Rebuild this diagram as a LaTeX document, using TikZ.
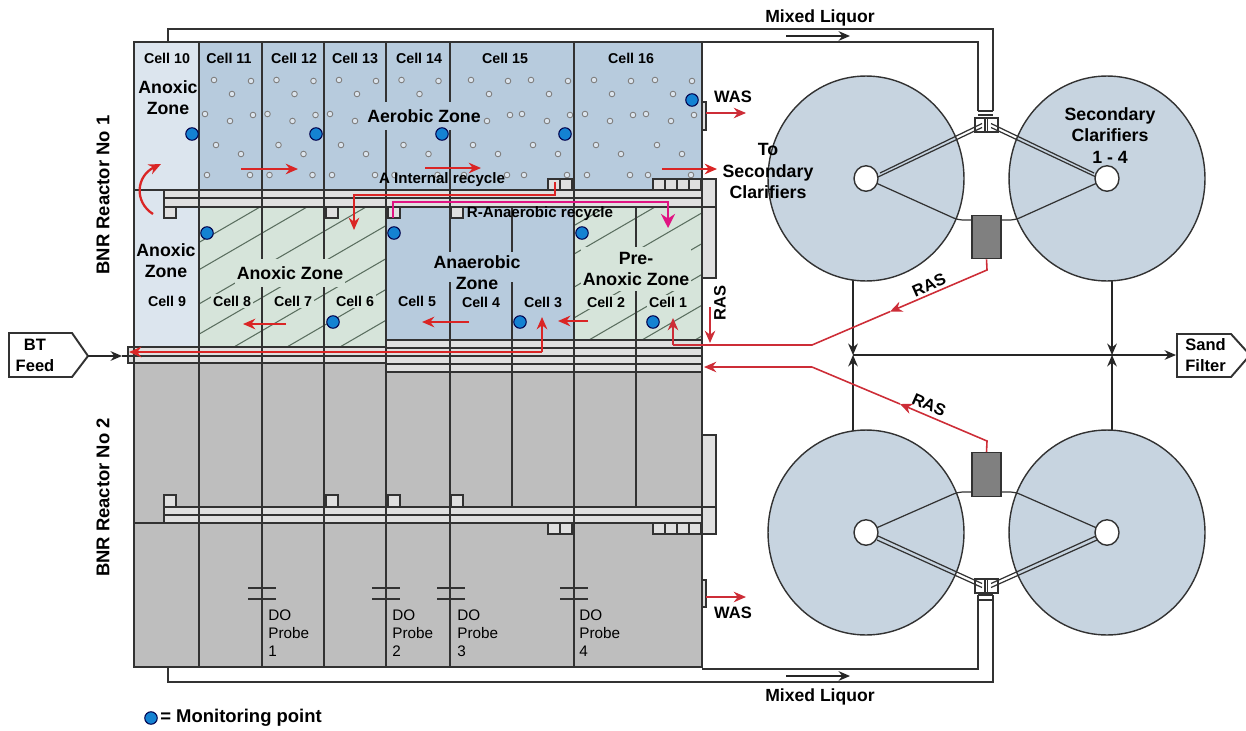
\documentclass[tikz,border=0pt]{standalone}
\usepackage{xcolor}
\usepackage{fontspec}
\setmainfont{Liberation Sans}
\usepackage{tikz}
\usetikzlibrary{shapes.geometric, arrows.meta, calc}
\definecolor{myblue}{RGB}{183,203,221}
\definecolor{mypale}{RGB}{220,229,238}
\definecolor{mygreen}{RGB}{214,228,218}
\definecolor{mygrey}{RGB}{190,190,190}
\definecolor{myband}{RGB}{224,224,224}
\definecolor{myclar}{RGB}{199,212,224}
\definecolor{mydark}{RGB}{50,50,50}
\definecolor{myred}{RGB}{218,37,37}
\definecolor{myrasred}{RGB}{205,45,55}
\definecolor{mypink}{RGB}{224,20,130}
\definecolor{mydot}{RGB}{20,130,210}
\definecolor{myhatch}{RGB}{90,110,95}
\tikzset{
  wall/.style={draw=mydark, line width=0.85pt},
  thinwall/.style={draw=mydark, line width=0.7pt},
  pipeline/.style={draw=mydark, line width=1pt},
  gate/.style={draw=mydark, fill=myband, line width=0.7pt},
  hatchline/.style={draw=myhatch, line width=0.6pt},
  bubble/.style={draw=gray, fill=mypale, line width=0.5pt},
  monitor/.style={circle, draw=black!70!blue, fill=mydot, line width=0.6pt, minimum size=0.25cm, inner sep=0pt},
  clarifier/.style={ellipse, draw=mydark, fill=myclar, line width=0.8pt, minimum width=3.92cm, minimum height=4.1cm, inner sep=0pt},
  hub/.style={ellipse, draw=mydark, fill=white, line width=0.8pt, minimum width=0.48cm, minimum height=0.51cm, inner sep=0pt},
  drive/.style={rectangle, draw=mydark, fill=black!50, line width=0.8pt, minimum width=0.58cm, minimum height=0.87cm, inner sep=0pt},
  cell/.style={font=\bfseries\fontsize{8.1}{10}\selectfont, inner sep=1pt},
  zone/.style={font=\bfseries\fontsize{10.1}{12}\selectfont, align=center, inner sep=1pt},
  tag/.style={font=\bfseries\fontsize{9.4}{12}\selectfont, align=center, inner sep=0pt},
  probe/.style={font=\fontsize{8.7}{10.3}\selectfont, align=left, anchor=north west, inner sep=0pt},
  arrow/.style={-{Stealth[length=6.5pt,width=5.5pt]}, line width=0.9pt, color=black!85},
  redarrow/.style={-{Stealth[length=7pt,width=6pt]}, line width=1.3pt, color=myred},
  rasarrow/.style={-{Stealth[length=7pt,width=6pt]}, line width=0.9pt, color=myrasred},
  pinkarrow/.style={-{Stealth[length=8pt,width=8pt]}, line width=1.4pt, color=mypink},
  redline/.style={line width=0.9pt, color=myrasred}
}

\begin{document}
\begin{tikzpicture}[x=0.02cm, y=-0.02cm]
  \useasboundingbox (0,0) rectangle (1246,730);

  % Zone fills
  \fill[myblue] (199,42) rectangle (702,190);
  \fill[mypale] (134,42) rectangle (199,190);
  \fill[mypale] (134,190) rectangle (199,348);
  \fill[mygreen] (199,207) rectangle (386,348);
  \fill[myblue] (386,207) rectangle (574,340);
  \fill[mygreen] (574,207) rectangle (702,340);
  \fill[mygrey] (134,363) rectangle (702,667);

  % Hatching
  \begin{scope}
    \clip (199,207) rectangle (386,347);
    \foreach \a in {260,307,366,418,475,528,581,634} \draw[hatchline] (\a,207) -- ++(-260,151);
  \end{scope}
  \begin{scope}
    \clip (574,207) rectangle (702,340);
    \foreach \a in {606,655,712,765,818,871,924} \draw[hatchline] (\a,207) -- ++(-260,151);
  \end{scope}

  % Aeration bubbles
  \foreach \dx in {0,62.5,125,187.5,257,317,380,441}
    \foreach \px/\py in {214/80,251/81,232/94,205/114,253/115,230/121,216/145,241/154,207/175,250/175}
      \draw[bubble] ({\dx+\px},\py) circle (1.6pt);

  % Pipe bands
  \filldraw[gate] (164,190) rectangle (702,207);
  \filldraw[gate] (164,507) rectangle (702,523);
  \filldraw[gate] (128,347) rectangle (386,363);
  \filldraw[gate] (386,340) rectangle (702,372);
  \filldraw[gate] (702,179) rectangle (716,278);
  \filldraw[gate] (702,435) rectangle (716,534);
  \draw[thinwall] (702,207) -- (716,207);
  \draw[thinwall] (702,507) -- (716,507);
  \draw[wall, line width=1.2pt] (164,198) -- (702,198);
  \draw[wall, line width=1.2pt] (164,515) -- (702,515);
  \draw[thinwall] (128,356) -- (386,356);
  \draw[thinwall] (386,348) -- (702,348);
  \draw[thinwall] (386,356) -- (702,356);
  \draw[thinwall] (386,364) -- (702,364);
  \draw[wall] (134,190) -- (164,190);
  \draw[wall] (134,523) -- (164,523);

  % Cell walls
  \foreach \x in {199,262,324,386,450,574} \draw[thinwall] (\x,42) -- (\x,667);
  \foreach \x in {512,636} \draw[thinwall] (\x,207) -- (\x,507);
  \draw[wall] (134,42) rectangle (702,667);

  % Gates
  \foreach \x in {164,326,388,451} {
    \filldraw[gate] (\x,207) rectangle ++(12,11);
    \filldraw[gate] (\x,495) rectangle ++(12,12);
  }
  \foreach \x in {548,560,653,665,677,689} {
    \filldraw[gate] (\x,179) rectangle ++(12,11);
    \filldraw[gate] (\x,523) rectangle ++(12,11);
  }

  % WAS outlets
  \filldraw[gate] (702,102) rectangle (706,130);
  \filldraw[gate] (702,580) rectangle (706,607);
  \draw[rasarrow] (706,113) -- (746,113);
  \draw[rasarrow] (706,597) -- (746,597);

  % Cell labels
  \node[cell] (cell10) at (167,58) {Cell 10};
  \node[cell] (cell11) at (229,58) {Cell 11};
  \node[cell] (cell12) at (294,58) {Cell 12};
  \node[cell] (cell13) at (355,58) {Cell 13};
  \node[cell] (cell14) at (419,58) {Cell 14};
  \node[cell] (cell15) at (505,58) {Cell 15};
  \node[cell] (cell16) at (631,58) {Cell 16};
  \node[cell] (cell9) at (167,301) {Cell 9};
  \node[cell, fill=mygreen] (cell8) at (232,301) {Cell 8};
  \node[cell, fill=mygreen] (cell7) at (293,301) {Cell 7};
  \node[cell, fill=mygreen] (cell6) at (355,301) {Cell 6};
  \node[cell] (cell5) at (417,301) {Cell 5};
  \node[cell] (cell4) at (481,302) {Cell 4};
  \node[cell] (cell3) at (543,302) {Cell 3};
  \node[cell, fill=mygreen] (cell2) at (606,302) {Cell 2};
  \node[cell, fill=mygreen] (cell1) at (668,302) {Cell 1};

  % Zone labels
  \fill[myblue] (434,252) rectangle (521,282);
  \node[zone] (anoxicA) at (168,98) {Anoxic\\Zone};
  \node[zone, fill=myblue, inner ysep=4.5pt] (aerobic) at (424,116) {Aerobic Zone};
  \node[zone] (anoxicB) at (166,261) {Anoxic\\Zone};
  \node[zone, fill=mygreen, inner ysep=4.5pt] (anoxicC) at (290,273) {Anoxic Zone};
  \node[zone] (anaerobicA) at (477,262) {Anaerobic};
  \node[zone] (anaerobicB) at (477,283) {Zone};
  \node[zone, fill=mygreen, inner ysep=3pt] (preanoxic) at (636,269) {Pre-\\Anoxic Zone};

  % Recycle labels
  \node[font=\bfseries\fontsize{8.6}{10}\selectfont, inner sep=0pt] (internal) at (442,180) {A Internal recycle};
  \node[font=\bfseries\fontsize{8.6}{10}\selectfont, inner sep=0pt] (anaerobicrec) at (540,214) {R-Anaerobic recycle};

  % Monitoring points
  \foreach \n/\x/\y in {a/192/134,b/316/134,c/442/134,d/565/134,e/692/100,f/207/233,g/394/233,h/582/233,i/333/322,j/520/322,k/653/322}
    \node[monitor] (mp\n) at (\x,\y) {};

  % Flow arrows
  \draw[redarrow] (241,169) -- (298,169);
  \draw[redarrow] (425,168) -- (481,168);
  \draw[redarrow] (662,169) -- (717,169);
  \draw[redarrow] (286,324) -- (243,324);
  \draw[redarrow] (469,322) -- (422,322);
  \draw[redarrow] (588,321) -- (558,321);
  \draw[redarrow] (153,214) .. controls (134,202) and (136,176) .. (161,164);

  % Internal recycle
  \coordinate (intA) at (555,182);
  \draw[redarrow] (intA) -- (555,195) -- (354,195) -- (354,230);

  % Anaerobic recycle
  \coordinate (recA) at (393,218);
  \draw[pinkarrow] (recA) -- (393,202) -- (668,202) -- (668,228);

  % BT feed into cells
  \coordinate (feedA) at (542,352);
  \draw[redarrow] (feedA) -- (129,352);
  \draw[redarrow] (feedA) -- (542,317);

  % BT Feed box
  \draw[wall, line width=1.1pt] (9,333) -- (72,333) -- (88,356) -- (72,377) -- (9,377) -- cycle;
  \coordinate (bttip) at (88,356);
  \coordinate (btin) at (128,356);
  \node[tag] (btfeed) at (35,355) {BT\\Feed};
  \draw[arrow] (bttip) -- (122,356);
  \draw[line width=0.9pt, black!85] (122,356) -- (btin);

  % Effluent line
  \coordinate (jA) at (853,355);
  \coordinate (jB) at (1112,355);
  \coordinate (sandin) at (1176,355);
  \draw[arrow] (853,260) -- (jA);
  \draw[arrow] (1112,260) -- (jB);
  \draw[arrow] (853,440) -- (jA);
  \draw[arrow] (1112,440) -- (jB);
  \draw[arrow] (jA) -- (sandin);

  % Sand Filter box
  \draw[wall, line width=1.1pt] (1177,334) -- (1231,334) -- (1250,355) -- (1231,377) -- (1177,377) -- cycle;
  \node[tag, align=left, anchor=west] (sandfilter) at (1185,355) {Sand\\Filter};

  % Clarifiers
  \node[clarifier] (clarA) at (866,178.5) {};
  \node[clarifier] (clarB) at (1107,178.5) {};
  \node[clarifier] (clarC) at (866,532.5) {};
  \node[clarifier] (clarD) at (1107,532.5) {};

  % Mixed liquor pipes
  \draw[pipeline] (134,42) -- (978,42) -- (978,111);
  \draw[pipeline] (168,42) -- (168,29) -- (993,29) -- (993,111);
  \draw[pipeline] (702,669) -- (978,669) -- (978,595);
  \draw[pipeline] (168,667) -- (168,682) -- (993,682) -- (993,595);
  \draw[thinwall] (978,111) -- (993,111) (978,115) -- (993,115);
  \draw[thinwall] (978,595) -- (993,595) (978,600) -- (993,600);
  \draw[arrow] (786,36) -- (850,36);
  \draw[arrow] (786,676) -- (850,676);

  % Splitter boxes
  \filldraw[fill=white, thinwall] (975,118) rectangle (998,132);
  \filldraw[fill=white, thinwall] (975,579) rectangle (998,593);
  \draw[thinwall] (985,118) -- (985,132) (987.5,118) -- (987.5,132);
  \draw[thinwall] (985,579) -- (985,593) (987.5,579) -- (987.5,593);

  % Feed pipes from splitters
  \draw[thinwall] (880,173) -- (982,123.5) (878,177) -- (982,127.5);
  \draw[thinwall] (1094,173) -- (991,123.5) (1096,177) -- (991,127.5);
  \draw[thinwall] (878,536) -- (982,583.5) (877,540) -- (982,587.5);
  \draw[thinwall] (1096,536) -- (991,583.5) (1097,540) -- (991,587.5);

  % Drives
  \node[drive] (driveA) at (986.5,237) {};
  \node[drive] (driveB) at (986.5,474.5) {};
  \draw[thinwall, rounded corners=3pt] (driveA.west |- 0,220) -- (958,220) -- (866,178.5);
  \draw[thinwall, rounded corners=3pt] (driveA.east |- 0,220) -- (1015,220) -- (1107,178.5);
  \draw[thinwall, rounded corners=3pt] (driveB.west |- 0,492) -- (958,492) -- (866,532.5);
  \draw[thinwall, rounded corners=3pt] (driveB.east |- 0,492) -- (1015,492) -- (1107,532.5);

  % Hubs
  \node[hub] (hubA) at (866,178.5) {};
  \node[hub] (hubB) at (1107,178.5) {};
  \node[hub] (hubC) at (866,532.5) {};
  \node[hub] (hubD) at (1107,532.5) {};

  % RAS lines
  \draw[rasarrow] (driveA.south) -- (987,270) -- (890,311.6);
  \draw[redline] (890,311.6) -- (812,345) -- (673,345);
  \draw[rasarrow] (673,345) -- (673,318);
  \draw[rasarrow] (driveB.north) -- (987,441) -- (900,404);
  \draw[redline] (900,404) -- (812,367);
  \draw[rasarrow] (812,367) -- (704,367);
  \draw[rasarrow] (710,307) -- (710,343);

  % Tags
  \node[tag, rotate=90] (ras) at (720,303) {RAS};
  \node[tag, rotate=24] (rasA) at (929,285) {RAS};
  \node[tag, rotate=-24] (rasB) at (929,405) {RAS};
  \node[tag] (wasA) at (733,97) {WAS};
  \node[tag] (wasB) at (733,613) {WAS};
  \node[tag, font=\bfseries\fontsize{10}{12}\selectfont] (mixedA) at (820,18) {Mixed Liquor};
  \node[tag, font=\bfseries\fontsize{10}{12}\selectfont] (mixedB) at (820,697) {Mixed Liquor};
  \node[zone] (tosec) at (768,171) {To\\Secondary\\Clarifiers};
  \node[zone] (secondary) at (1110,135.5) {Secondary\\Clarifiers\\1 - 4};
  \node[tag, rotate=90, font=\bfseries\fontsize{10.5}{12}\selectfont] (bnrA) at (103,195) {BNR Reactor No 1};
  \node[tag, rotate=90, font=\bfseries\fontsize{10.5}{12}\selectfont] (bnrB) at (103,497.5) {BNR Reactor No 2};

  % DO probes
  \foreach \n/\x/\lx/\t in {1/262/268/1,2/386/392/2,3/451/457/3,4/574/579/4} {
    \draw[thinwall] ({\x-14},588) -- ({\x+14},588) ({\x-14},599) -- ({\x+14},599);
    \node[probe] (probe\n) at (\lx,609) {DO\\Probe\\\t};
  }

  % Legend
  \node[monitor] (legdot) at (151,718) {};
  \node[font=\bfseries\fontsize{10.5}{12}\selectfont, anchor=west, inner sep=0pt] (legend) at (160,718) {= Monitoring point};
\end{tikzpicture}
\end{document}
